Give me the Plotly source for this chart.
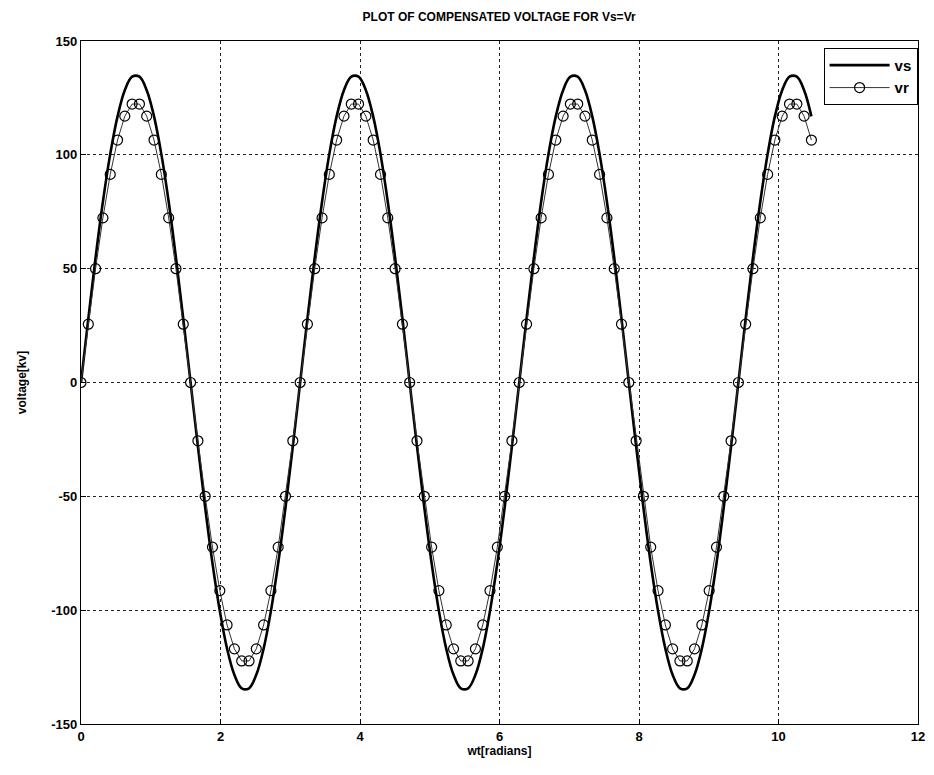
import plotly.graph_objects as go

# sample instants wt [radians]
wt = [0.000, 0.105, 0.209, 0.314, 0.419, 0.524, 0.628, 0.733, 0.838, 0.942,
      1.047, 1.152, 1.257, 1.361, 1.466, 1.571, 1.676, 1.780, 1.885, 1.990,
      2.094, 2.199, 2.304, 2.409, 2.513, 2.618, 2.723, 2.827, 2.932, 3.037,
      3.142, 3.246, 3.351, 3.456, 3.560, 3.665, 3.770, 3.875, 3.979, 4.084,
      4.189, 4.294, 4.398, 4.503, 4.608, 4.712, 4.817, 4.922, 5.027, 5.131,
      5.236, 5.341, 5.445, 5.550, 5.655, 5.760, 5.864, 5.969, 6.074, 6.178,
      6.283, 6.388, 6.493, 6.597, 6.702, 6.807, 6.912, 7.016, 7.121, 7.226,
      7.330, 7.435, 7.540, 7.645, 7.749, 7.854, 7.959, 8.063, 8.168, 8.273,
      8.378, 8.482, 8.587, 8.692, 8.796, 8.901, 9.006, 9.111, 9.215, 9.320,
      9.425, 9.529, 9.634, 9.739, 9.844, 9.948, 10.053, 10.158, 10.263, 10.367,
      10.472]

# sending-end voltage vs [kV]
vs = [0, 28.1, 54.9, 79.4, 100.3, 116.9, 128.4, 134.3, 134.3, 128.4,
      116.9, 100.3, 79.4, 54.9, 28.1, 0, -28.1, -54.9, -79.4, -100.3,
      -116.9, -128.4, -134.3, -134.3, -128.4, -116.9, -100.3, -79.4, -54.9, -28.1,
      0, 28.1, 54.9, 79.4, 100.3, 116.9, 128.4, 134.3, 134.3, 128.4,
      116.9, 100.3, 79.4, 54.9, 28.1, 0, -28.1, -54.9, -79.4, -100.3,
      -116.9, -128.4, -134.3, -134.3, -128.4, -116.9, -100.3, -79.4, -54.9, -28.1,
      0, 28.1, 54.9, 79.4, 100.3, 116.9, 128.4, 134.3, 134.3, 128.4,
      116.9, 100.3, 79.4, 54.9, 28.1, 0, -28.1, -54.9, -79.4, -100.3,
      -116.9, -128.4, -134.3, -134.3, -128.4, -116.9, -100.3, -79.4, -54.9, -28.1,
      0, 28.1, 54.9, 79.4, 100.3, 116.9, 128.4, 134.3, 134.3, 128.4,
      116.9]

# receiving-end voltage vr [kV]
vr = [0, 25.6, 50.0, 72.3, 91.4, 106.5, 117.0, 122.3, 122.3, 117.0,
      106.5, 91.4, 72.3, 50.0, 25.6, 0, -25.6, -50.0, -72.3, -91.4,
      -106.5, -117.0, -122.3, -122.3, -117.0, -106.5, -91.4, -72.3, -50.0, -25.6,
      0, 25.6, 50.0, 72.3, 91.4, 106.5, 117.0, 122.3, 122.3, 117.0,
      106.5, 91.4, 72.3, 50.0, 25.6, 0, -25.6, -50.0, -72.3, -91.4,
      -106.5, -117.0, -122.3, -122.3, -117.0, -106.5, -91.4, -72.3, -50.0, -25.6,
      0, 25.6, 50.0, 72.3, 91.4, 106.5, 117.0, 122.3, 122.3, 117.0,
      106.5, 91.4, 72.3, 50.0, 25.6, 0, -25.6, -50.0, -72.3, -91.4,
      -106.5, -117.0, -122.3, -122.3, -117.0, -106.5, -91.4, -72.3, -50.0, -25.6,
      0, 25.6, 50.0, 72.3, 91.4, 106.5, 117.0, 122.3, 122.3, 117.0,
      106.5]

x_ticks = [0, 2, 4, 6, 8, 10, 12]
y_ticks = [-150, -100, -50, 0, 50, 100, 150]

FONT = "Liberation Sans, Arial, sans-serif"

fig = go.Figure()
fig.add_trace(go.Scatter(
    x=wt, y=vs, name="vs", mode="lines",
    line=dict(color="black", width=2.6, shape="spline", smoothing=1.0),
))
fig.add_trace(go.Scatter(
    x=wt, y=vr, name="vr", mode="lines+markers",
    line=dict(color="#333333", width=1),
    marker=dict(symbol="circle-open", size=10, color="black", line=dict(width=1.2)),
))

axis_common = dict(
    showline=True, linecolor="black", linewidth=1.2, mirror=True,
    showgrid=True, gridcolor="#222222", griddash="dot", gridwidth=1,
    zeroline=False, ticks="inside", ticklen=5, tickcolor="black",
    automargin=False,
    tickfont=dict(family=FONT, size=13, color="black", weight="bold"),
)

# page body adds an 8px offset; figure is sized/margined to compensate
fig.update_layout(
    width=918, height=759,
    paper_bgcolor="white", plot_bgcolor="white",
    margin=dict(l=73, r=8, t=33, b=43),
    title=dict(text="PLOT OF COMPENSATED VOLTAGE FOR Vs=Vr",
               x=0.535, xanchor="center", y=0.989, yanchor="middle",
               font=dict(family=FONT, size=12, color="black", weight="bold")),
    xaxis=dict(range=[0, 12], tickvals=x_ticks, ticktext=[str(v) for v in x_ticks],
               title=dict(text="wt[radians]", standoff=2,
                          font=dict(family=FONT, size=12, color="black", weight="bold")),
               **axis_common),
    yaxis=dict(range=[-150, 150], tickvals=y_ticks, ticktext=[str(v) for v in y_ticks],
               title=dict(text="voltage[kv]", standoff=22,
                          font=dict(family=FONT, size=12, color="black", weight="bold")),
               **axis_common),
    legend=dict(x=0.9995, xanchor="right", y=0.99, yanchor="top",
                bgcolor="white", bordercolor="black", borderwidth=1,
                font=dict(family=FONT, size=15, color="black", weight="bold"),
                tracegroupgap=0, itemwidth=60),
    showlegend=True,
)

fig.write_html("out.html")
